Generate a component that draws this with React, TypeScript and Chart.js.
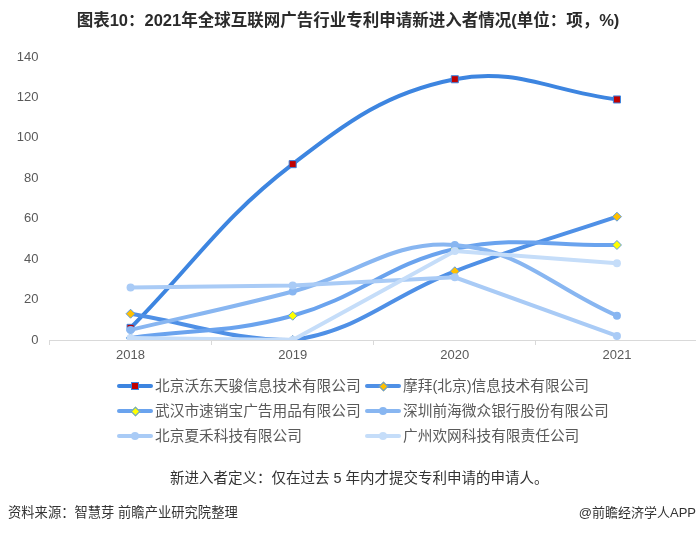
import React, { useEffect, useRef } from "react";
import { Chart, registerables } from "chart.js";

Chart.register(...registerables);

const titleText = "图表10：2021年全球互联网广告行业专利申请新进入者情况(单位：项，%)";
const noteText = "新进入者定义：仅在过去 5 年内才提交专利申请的申请人。";
const sourceText = "资料来源：智慧芽 前瞻产业研究院整理";
const brandText = "@前瞻经济学人APP";

const categories = ["2018", "2019", "2020", "2021"];
const seriesNames = [
  "北京沃东天骏信息技术有限公司",
  "摩拜(北京)信息技术有限公司",
  "武汉市速销宝广告用品有限公司",
  "深圳前海微众银行股份有限公司",
  "北京夏禾科技有限公司",
  "广州欢网科技有限责任公司",
];
const woDong = [6, 87, 129, 119];
const moBai = [13, 0, 34, 61];
const suXiaoBao = [1, 12, 45, 47];
const weiZhong = [5, 24, 47, 12];
const xiaHe = [26, 27, 31, 2];
const huanWang = [1, 0, 44, 38];
const seriesValues = [woDong, moBai, suXiaoBao, weiZhong, xiaHe, huanWang];
const yTickMin = 0;
const yTickMax = 140;
const yTickStep = 20;

const lineColors = ["#3d85e0", "#4f90e6", "#6aa3ee", "#88b6f1", "#a9cbf6", "#c5ddf9"];
const lineTensions = [0.4, 0.4, 0.4, 0.4, 0, 0];
const markerStyles = ["rect", "rectRot", "rectRot", "circle", "circle", "circle"];
const markerFills = ["#c00000", "#ffc000", "#ffff00", "#88b6f1", "#a9cbf6", "#c5ddf9"];
const markerBorders = ["#3d85e0", "#5b9be6", "#5b9be6", "#88b6f1", "#a9cbf6", "#c5ddf9"];
const markerRadii = [5, 4.5, 4.5, 4, 4, 4];
const markerBorderWidths = [1, 1, 1, 0, 0, 0];

const latin = '"Liberation Sans", "Noto Sans CJK SC", sans-serif';
const cjk = '"Liberation Sans", "Noto Sans CJK SC", sans-serif';

function LegendMarker({ i }: { i: number }) {
  const style = markerStyles[i];
  const base: React.CSSProperties = {
    position: "absolute",
    left: "50%",
    top: "50%",
    boxSizing: "border-box",
  };
  let m: React.CSSProperties;
  if (style === "rect") {
    m = { ...base, width: 8, height: 8, marginLeft: -4, marginTop: -4, background: markerFills[i], border: `1px solid ${markerBorders[i]}` };
  } else if (style === "rectRot") {
    m = { ...base, width: 7, height: 7, marginLeft: -3.5, marginTop: -3.5, background: markerFills[i], border: `1px solid ${markerBorders[i]}`, transform: "rotate(45deg)" };
  } else {
    m = { ...base, width: 8, height: 8, marginLeft: -4, marginTop: -4, background: markerFills[i], borderRadius: "50%" };
  }
  return (
    <div style={{ position: "absolute", left: 0, top: -6, width: 36, height: 12 }}>
      <div style={{ position: "absolute", left: 0, top: 4, width: 36, height: 4, borderRadius: 2, background: lineColors[i] }} />
      <div style={m} />
    </div>
  );
}

export default function App() {
  const canvasRef = useRef<HTMLCanvasElement | null>(null);

  useEffect(() => {
    if (!canvasRef.current) return;
    const chart = new Chart(canvasRef.current, {
      type: "line",
      data: {
        labels: categories,
        datasets: seriesValues.map((vals, i) => ({
          label: seriesNames[i],
          data: vals,
          borderColor: lineColors[i],
          backgroundColor: markerFills[i],
          borderWidth: 4,
          tension: lineTensions[i],
          fill: false,
          pointStyle: markerStyles[i] as any,
          pointRadius: markerRadii[i],
          pointBackgroundColor: markerFills[i],
          pointBorderColor: markerBorders[i],
          pointBorderWidth: markerBorderWidths[i],
          order: seriesValues.length - 1 - i,
        })),
      },
      options: {
        animation: false,
        responsive: true,
        maintainAspectRatio: false,
        devicePixelRatio: 1,
        layout: { padding: { left: 0, right: 3.5, top: 57, bottom: 164 } },
        plugins: {
          legend: { display: false },
          tooltip: { enabled: false },
          title: { display: false },
        },
        scales: {
          x: {
            type: "category",
            offset: true,
            grid: {
              display: true,
              offset: true,
              drawOnChartArea: false,
              drawTicks: true,
              tickLength: 5,
              color: "#d9d9d9",
            },
            border: { display: true, color: "#d9d9d9", width: 1 },
            ticks: {
              color: "#595959",
              font: { family: latin, size: 13 },
              padding: 3,
              maxRotation: 0,
            },
            afterFit: (s: any) => {
              s.height = 30;
            },
          },
          y: {
            min: yTickMin,
            max: yTickMax,
            grid: { display: false, drawTicks: false },
            border: { display: false },
            ticks: {
              stepSize: yTickStep,
              color: "#595959",
              font: { family: latin, size: 13 },
              padding: 11,
            },
            afterFit: (s: any) => {
              s.width = 49.5;
            },
          },
        },
      },
    });
    return () => chart.destroy();
  }, []);

  const legendRows = [386, 411, 436];
  const legendCols = [117, 365];

  return (
    <div
      style={{
        position: "absolute",
        left: 0,
        top: 0,
        width: 696,
        height: 534,
        overflow: "hidden",
        background: "#ffffff",
        fontFamily: cjk,
      }}
    >
      <div style={{ position: "absolute", left: 0, top: 0, width: 704, height: 534 }}>
        <canvas ref={canvasRef} />
      </div>
      <div
        style={{
          position: "absolute",
          left: 0,
          top: 9,
          width: 696,
          height: 22,
          lineHeight: "22px",
          textAlign: "center",
          fontWeight: "bold",
          fontSize: 16.5,
          color: "#2b2b2b",
          whiteSpace: "nowrap",
        }}
      >
        {titleText}
      </div>
      {seriesNames.map((name, i) => {
        const row = Math.floor(i / 2);
        const col = i % 2;
        return (
          <div key={name} style={{ position: "absolute", left: legendCols[col], top: legendRows[row], height: 0 }}>
            <LegendMarker i={i} />
            <div
              style={{
                position: "absolute",
                left: 38,
                top: -10,
                height: 20,
                lineHeight: "20px",
                fontSize: 14.7,
                color: "#595959",
                whiteSpace: "nowrap",
              }}
            >
              {name}
            </div>
          </div>
        );
      })}
      <div
        style={{
          position: "absolute",
          left: 170,
          top: 468,
          height: 20,
          lineHeight: "20px",
          fontSize: 14.5,
          color: "#333333",
          whiteSpace: "nowrap",
        }}
      >
        {noteText}
      </div>
      <div
        style={{
          position: "absolute",
          left: 8,
          top: 503,
          height: 20,
          lineHeight: "20px",
          fontSize: 13.3,
          color: "#333333",
          whiteSpace: "nowrap",
        }}
      >
        {sourceText}
      </div>
      <div
        style={{
          position: "absolute",
          right: 0,
          top: 503,
          height: 20,
          lineHeight: "20px",
          fontSize: 13,
          color: "#333333",
          whiteSpace: "nowrap",
        }}
      >
        {brandText}
      </div>
    </div>
  );
}
